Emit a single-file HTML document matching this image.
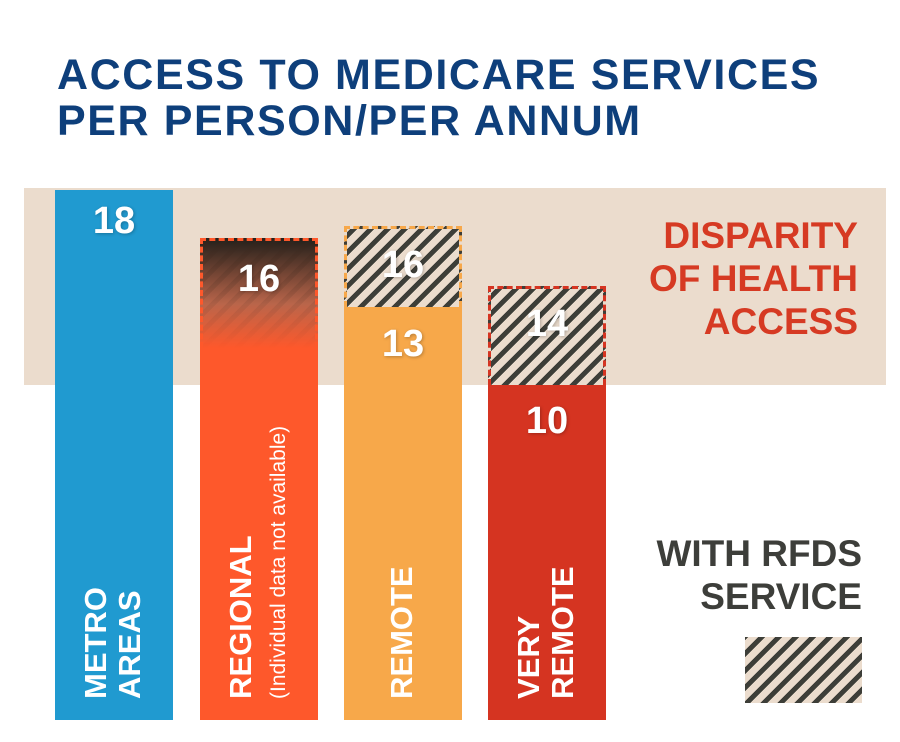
<!DOCTYPE html>
<html><head><style>
body{margin:0;width:900px;height:742px;background:#fff;position:relative;overflow:hidden;font-family:"Liberation Sans",sans-serif;}
.a{position:absolute;}
.t{font-weight:bold;color:#0e3f7b;font-size:43px;left:57px;line-height:46px;letter-spacing:1.6px}
.hat{background:repeating-linear-gradient(-45deg,#ebdccd 0 7px,#3d3e38 7px 12px);}
.num{color:#fff;font-weight:bold;font-size:38px;text-align:center;width:118px;text-shadow:1px 1px 3px rgba(0,0,0,0.25)}
.lab{color:#fff;font-weight:bold;font-size:31px;line-height:34px;transform-origin:0 0;transform:rotate(-90deg);white-space:nowrap;}
.r{right:42px;text-align:right;font-weight:bold;font-size:37px;line-height:43px}
</style></head><body>
<div class="a t" style="top:52px">ACCESS TO MEDICARE SERVICES</div>
<div class="a t" style="top:98px">PER PERSON/PER ANNUM</div>
<div class="a" style="left:24px;top:188px;width:862px;height:197px;background:#ebdccd"></div>
<div class="a r" style="top:214px;color:#d63a23">DISPARITY<br>OF HEALTH<br>ACCESS</div>
<div class="a r" style="top:532px;right:38px;color:#3d3e3a">WITH RFDS<br>SERVICE</div>
<div class="a hat" style="left:745px;top:637px;width:117px;height:66px"></div>
<!-- metro -->
<div class="a" style="left:55px;top:190px;width:118px;height:530px;background:#209ad0"></div>
<div class="a num" style="left:55px;top:200px">18</div>
<!-- regional -->
<div class="a" style="left:200px;top:238px;width:118px;height:482px;background:#fe582b"></div>
<div class="a" style="left:200px;top:238px;width:118px;height:110px;background:linear-gradient(#221f1a,rgba(140,110,95,0.6) 60%,rgba(254,88,43,0));"></div>
<div class="a" style="left:200px;top:238px;width:118px;height:110px;background:repeating-linear-gradient(-45deg,rgba(0,0,0,0) 0 7px,rgba(60,40,30,0.25) 7px 12px);-webkit-mask-image:linear-gradient(#000,rgba(0,0,0,0));mask-image:linear-gradient(#000,rgba(0,0,0,0))"></div>
<div class="a" style="left:200px;top:238px;width:118px;height:110px;border:3px dashed #fe582b;box-sizing:border-box;border-bottom:none"></div>
<div class="a num" style="left:200px;top:258px">16</div>
<!-- remote -->
<div class="a" style="left:344px;top:307px;width:118px;height:413px;background:#f7a84a"></div>
<div class="a hat" style="left:344px;top:226px;width:118px;height:81px;border:3px dashed #f7a84a;box-sizing:border-box;border-bottom:none"></div>
<div class="a num" style="left:344px;top:244px">16</div>
<div class="a num" style="left:344px;top:323px">13</div>
<!-- very remote -->
<div class="a" style="left:488px;top:385px;width:118px;height:335px;background:#d53421"></div>
<div class="a hat" style="left:488px;top:286px;width:118px;height:99px;border:3px dashed #d53421;box-sizing:border-box;border-bottom:none"></div>
<div class="a num" style="left:488px;top:303px">14</div>
<div class="a num" style="left:488px;top:400px">10</div>
<!-- labels -->
<div class="a lab" style="left:79px;top:699px">METRO<br>AREAS</div>
<div class="a lab" style="left:224px;top:699px">REGIONAL<br><span style="font-weight:normal;font-size:21px;line-height:22px">(Individual data not available)</span></div>
<div class="a lab" style="left:385px;top:699px">REMOTE</div>
<div class="a lab" style="left:512px;top:699px">VERY<br>REMOTE</div>
</body></html>
